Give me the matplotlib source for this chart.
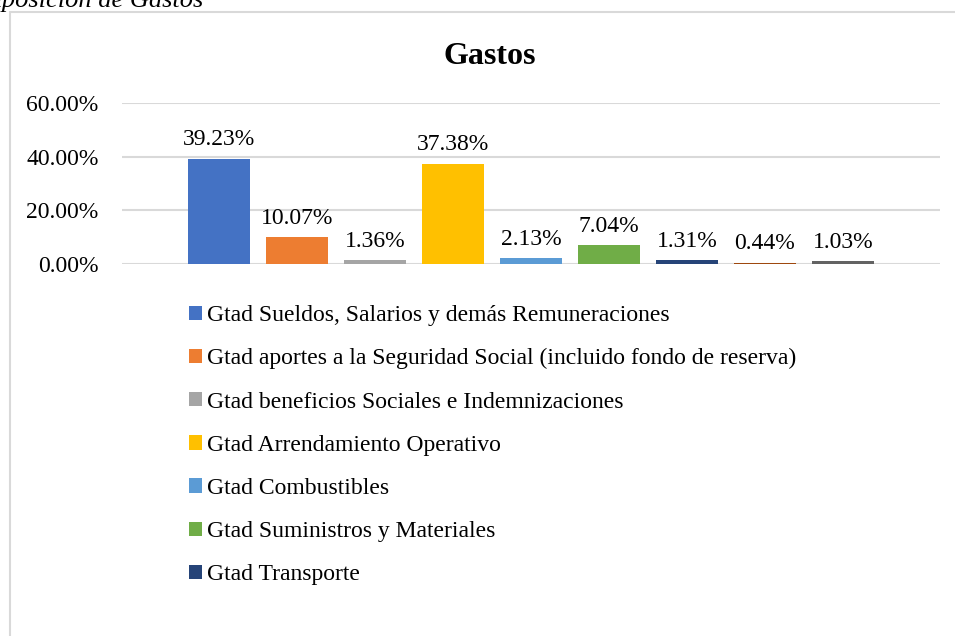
import matplotlib
matplotlib.use("Agg")
import matplotlib.pyplot as plt
from matplotlib.patches import Rectangle

categories = [
    "Gtad Sueldos, Salarios y demás Remuneraciones",
    "Gtad aportes a la Seguridad Social (incluido fondo de reserva)",
    "Gtad beneficios Sociales e Indemnizaciones",
    "Gtad Arrendamiento Operativo",
    "Gtad Combustibles",
    "Gtad Suministros y Materiales",
    "Gtad Transporte",
    "Gtad Otros 1",
    "Gtad Otros 2",
]
values = [0.3923, 0.1007, 0.0136, 0.3738, 0.0213, 0.0704, 0.0131, 0.0044, 0.0103]
colors = ["#4472C4", "#ED7D31", "#A5A5A5", "#FFC000", "#5B9BD5",
          "#70AD47", "#264478", "#9E480E", "#636363"]
yticks = [0.0, 0.2, 0.4, 0.6]

plt.rcParams['font.family'] = ['Liberation Serif', 'DejaVu Serif']

fig = plt.figure(figsize=(9.55, 6.36), dpi=100)

# chart frame (cut by the image edges)
fig.patches.append(Rectangle((10 / 955, -0.1), 1.2, (636 - 12) / 636 + 0.1,
                             transform=fig.transFigure, fill=False,
                             edgecolor="#D9D9D9", linewidth=1.5))

# cut-off caption above the chart
fig.text(203 / 955, (636 - 7) / 636, "Composición de Gastos", ha="right",
         va="baseline", fontsize=19, style="italic", color="black")

ax = fig.add_axes([122 / 955, 372 / 636, 818 / 955, 161 / 636])
x = list(range(len(values)))
bars = ax.bar(x, values, width=0.795, color=colors, zorder=3)

for xi, v in zip(x, values):
    ax.annotate(f"{v * 100:.2f}%", (xi, v), xytext=(0, 6), textcoords="offset points",
                ha="center", va="bottom", fontsize=17)

ax.set_xlim(-1.244, len(values) - 1 + 1.244)
ax.set_ylim(0, 0.6)
ax.set_yticks(yticks)
ax.set_yticklabels([f"{t * 100:.2f}%" for t in yticks], fontsize=17)
ax.set_xticks([])
ax.tick_params(axis="y", length=0, pad=17)
ax.grid(axis="y", color="#D9D9D9", linewidth=1.5, zorder=0)
for s in ax.spines.values():
    s.set_visible(False)

fig.text(490 / 955, (636 - 56) / 636, "Gastos", ha="center", va="center",
         fontsize=23, fontweight="bold")

# legend only shows the first entries; the rest fall outside the picture
fig.legend(bars[:7], categories[:7], loc="upper left",
           bbox_to_anchor=(189 / 955, (636 - 305) / 636), frameon=False,
           fontsize=17, handlelength=0.55, handleheight=0.55, handletextpad=0.2,
           labelspacing=0.94, borderaxespad=0, borderpad=0)

fig.savefig("out.png", dpi=100)
